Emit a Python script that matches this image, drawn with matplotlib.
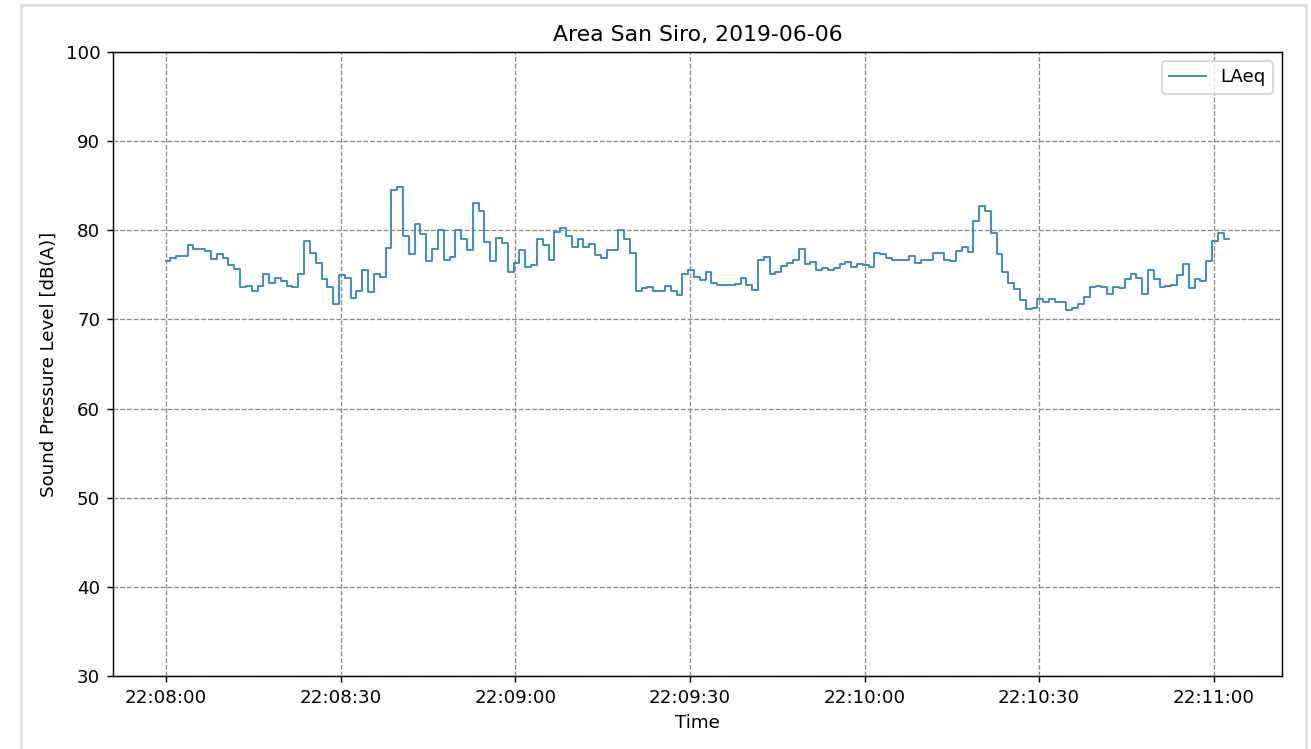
"""LAeq step chart, Area San Siro, 2019-06-06."""

import matplotlib

matplotlib.use("Agg")
import matplotlib.pyplot as plt  # noqa: E402
import matplotlib.dates as mdates  # noqa: E402
import numpy as np  # noqa: E402
import pandas as pd  # noqa: E402
from matplotlib.patches import Rectangle  # noqa: E402

START = pd.Timestamp("2019-06-06 22:08:00")
FIRST_STEP = 0.7   # seconds until the first change of level
LAST_END = 182.6   # seconds where the trace ends

# LAeq readings, one per second (dB(A))
laeq = [
    76.6, 76.9, 77.1, 77.1, 78.3, 77.9, 77.9, 77.7, 76.8, 77.3,
    76.9, 76.1, 75.7, 73.6, 73.8, 73.2, 73.7, 75.1, 74.1, 74.7,
    74.3, 73.8, 73.6, 75.1, 78.8, 77.5, 76.3, 74.5, 73.6, 71.7,
    75.0, 74.7, 72.4, 73.2, 75.5, 73.1, 75.1, 74.8, 78.0, 84.5,
    84.8, 79.4, 77.3, 80.7, 79.6, 76.6, 77.9, 80.0, 76.7, 77.0,
    80.0, 79.0, 77.8, 83.1, 82.2, 78.7, 76.5, 79.1, 78.6, 75.3,
    76.3, 77.8, 75.9, 76.1, 79.0, 78.4, 76.7, 79.8, 80.3, 79.4,
    78.1, 79.0, 78.1, 78.5, 77.2, 76.9, 77.8, 77.8, 80.0, 79.0,
    77.5, 73.2, 73.5, 73.6, 73.2, 73.2, 73.8, 73.2, 72.7, 75.1,
    75.5, 74.8, 74.4, 75.3, 74.1, 73.9, 73.9, 73.9, 74.0, 74.7,
    73.9, 73.3, 76.7, 77.0, 75.1, 75.3, 76.0, 76.3, 76.7, 77.9,
    76.2, 76.4, 75.6, 75.8, 75.6, 75.8, 76.2, 76.4, 75.9, 76.2,
    76.1, 75.9, 77.5, 77.3, 76.9, 76.7, 76.7, 76.7, 77.1, 76.3,
    76.7, 76.7, 77.5, 77.5, 76.7, 76.6, 77.7, 78.1, 77.6, 81.0,
    82.7, 82.2, 79.7, 77.3, 75.3, 74.1, 73.4, 72.2, 71.2, 71.3,
    72.3, 71.9, 72.3, 71.9, 71.9, 71.1, 71.3, 71.7, 72.5, 73.6,
    73.8, 73.6, 72.8, 73.6, 73.5, 74.5, 75.1, 74.7, 72.9, 75.5,
    74.5, 73.6, 73.8, 73.9, 75.0, 76.2, 73.5, 74.5, 74.3, 76.5,
    78.8, 79.7, 79.0,
]

# step edges: first change after FIRST_STEP s, then every second
edges_s = np.concatenate(([0.0], FIRST_STEP + np.arange(len(laeq) - 1), [LAST_END]))
edges = START + pd.to_timedelta(edges_s, unit="s")
levels = laeq + [laeq[-1]]

fig = plt.figure(figsize=(10, 749 / 131.1), dpi=131.1)
ax = fig.add_axes([113 / 1311, 73 / 749, 1169 / 1311, 624 / 749])

ax.step(edges, levels, where="post", color="#2f86c8", linewidth=1.0, label="LAeq")

ax.set_ylim(30, 100)
ax.xaxis.set_major_locator(mdates.SecondLocator(bysecond=[0, 30]))
ax.xaxis.set_major_formatter(mdates.DateFormatter("%H:%M:%S"))
ax.grid(True, color="#888888", linestyle="--", linewidth=0.7)

ax.set_title("Area San Siro, 2019-06-06")
ax.set_xlabel("Time")
ax.set_ylabel("Sound Pressure Level [dB(A)]")
ax.legend(loc="upper right")

# light frame of the notebook output cell
fig.patches.append(Rectangle((21 / 1311, -0.05), 1285 / 1311, 0.05 + 744 / 749,
                             transform=fig.transFigure, fill=False,
                             edgecolor="#dddddd", linewidth=1.5))

fig.savefig("out.png", dpi=131.1)
plt.close(fig)
